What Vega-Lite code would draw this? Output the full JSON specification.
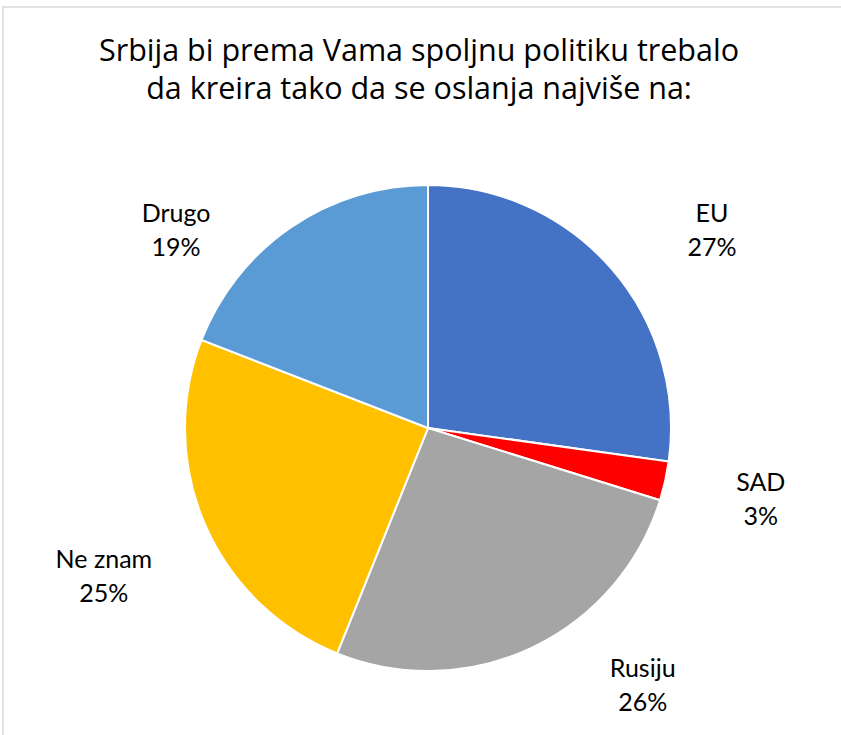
{
  "$schema": "https://vega.github.io/schema/vega-lite/v6.json",
  "width": 850,
  "height": 842,
  "autosize": {"type": "none"},
  "padding": {"left": 3, "top": 7, "right": 0, "bottom": 0},
  "background": "white",
  "view": {"stroke": "#D9D9D9", "strokeWidth": 1.5, "fill": "white"},
  "title": {
    "text": ["Srbija bi prema Vama spoljnu politiku trebalo", "da kreira tako da se oslanja najviše na:"],
    "font": "Open Sans",
    "fontSize": 30.5,
    "fontWeight": "normal",
    "color": "#000000",
    "anchor": "middle",
    "lineHeight": 38,
    "offset": -98,
    "dx": -9
  },
  "data": {
    "values": [
      {"kategorija": "EU", "udeo": 27.2, "oznaka": "EU\n27%"},
      {"kategorija": "SAD", "udeo": 2.6, "oznaka": "SAD\n3%"},
      {"kategorija": "Rusiju", "udeo": 26.3, "oznaka": "Rusiju\n26%"},
      {"kategorija": "Ne znam", "udeo": 24.8, "oznaka": "Ne znam\n25%"},
      {"kategorija": "Drugo", "udeo": 19.1, "oznaka": "Drugo\n19%"}
    ]
  },
  "transform": [{"stack": "udeo", "groupby": [], "as": ["p0", "p1"]}],
  "layer": [
    {
      "mark": {"type": "arc", "radius": 243, "stroke": "white", "strokeWidth": 2},
      "encoding": {
        "theta": {"field": "p0", "type": "quantitative", "scale": {"domain": [0, 100]}},
        "theta2": {"field": "p1"},
        "color": {
          "field": "kategorija",
          "type": "nominal",
          "scale": {"domain": ["EU", "SAD", "Rusiju", "Ne znam", "Drugo"], "range": ["#4472C4", "#FF0000", "#A5A5A5", "#FFC000", "#5B9BD5"]},
          "legend": null
        }
      }
    },
    {
      "transform": [{"filter": "datum.kategorija === 'EU'"}],
      "mark": {"type": "text", "radius": 340, "font": "Lato", "fontSize": 25, "lineBreak": "\n", "lineHeight": 34, "baseline": "middle", "align": "center", "color": "#000000", "dx": 284, "dy": 126},
      "encoding": {"theta": {"field": "p0", "type": "quantitative"}, "text": {"field": "oznaka"}}
    },
    {
      "transform": [{"filter": "datum.kategorija === 'SAD'"}],
      "mark": {"type": "text", "radius": 340, "font": "Lato", "fontSize": 25, "lineBreak": "\n", "lineHeight": 34, "baseline": "middle", "align": "center", "color": "#000000", "dx": -4, "dy": 8},
      "encoding": {"theta": {"field": "p0", "type": "quantitative"}, "text": {"field": "oznaka"}}
    },
    {
      "transform": [{"filter": "datum.kategorija === 'Rusiju'"}],
      "mark": {"type": "text", "radius": 340, "font": "Lato", "fontSize": 25, "lineBreak": "\n", "lineHeight": 34, "baseline": "middle", "align": "center", "color": "#000000", "dx": -110, "dy": 140},
      "encoding": {"theta": {"field": "p0", "type": "quantitative"}, "text": {"field": "oznaka"}}
    },
    {
      "transform": [{"filter": "datum.kategorija === 'Ne znam'"}],
      "mark": {"type": "text", "radius": 340, "font": "Lato", "fontSize": 25, "lineBreak": "\n", "lineHeight": 34, "baseline": "middle", "align": "center", "color": "#000000", "dx": -197, "dy": -183},
      "encoding": {"theta": {"field": "p0", "type": "quantitative"}, "text": {"field": "oznaka"}}
    },
    {
      "transform": [{"filter": "datum.kategorija === 'Drugo'"}],
      "mark": {"type": "text", "radius": 340, "font": "Lato", "fontSize": 25, "lineBreak": "\n", "lineHeight": 34, "baseline": "middle", "align": "center", "color": "#000000", "dx": 65, "dy": -91},
      "encoding": {"theta": {"field": "p0", "type": "quantitative"}, "text": {"field": "oznaka"}}
    }
  ]
}
